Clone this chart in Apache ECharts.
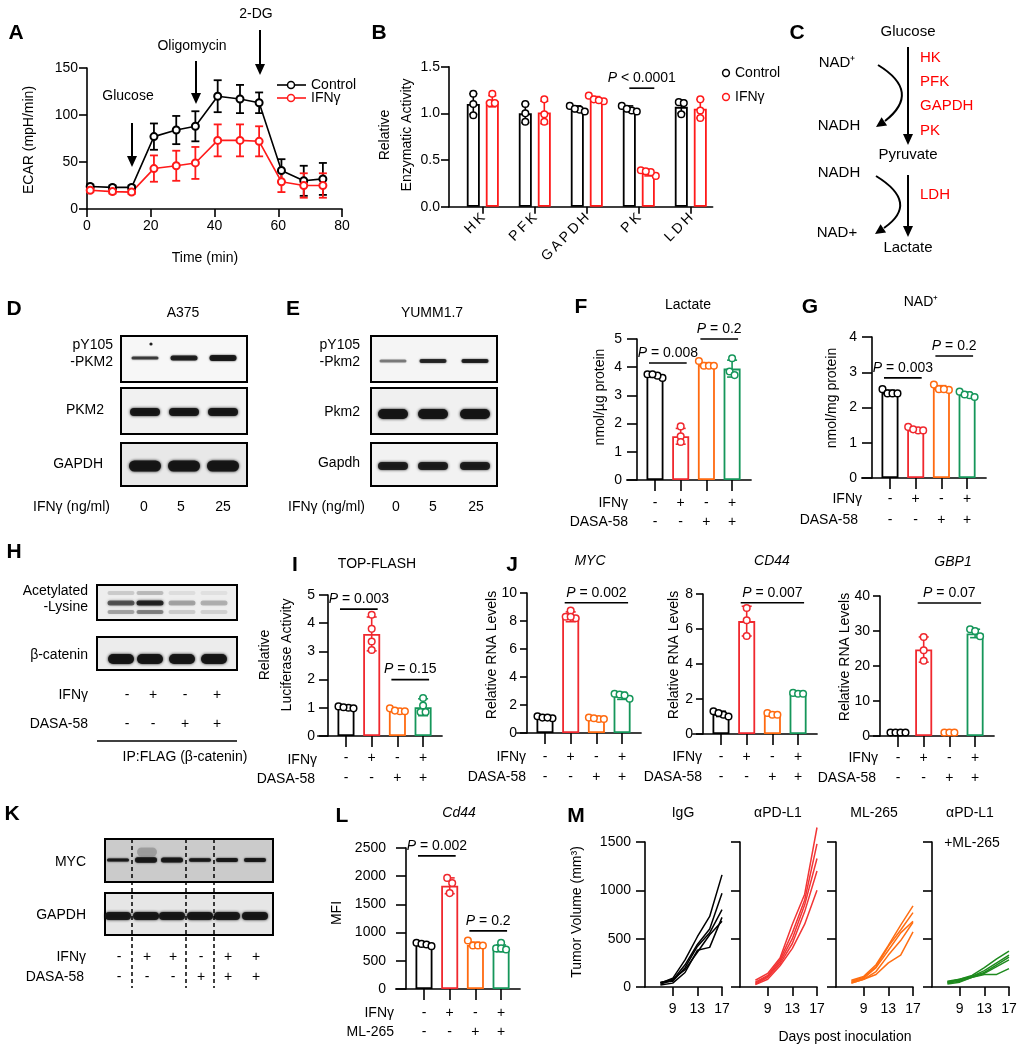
<!DOCTYPE html>
<html><head><meta charset="utf-8">
<script src="https://cdn.jsdelivr.net/npm/echarts@6/dist/echarts.min.js"></script>
<style>html,body{margin:0;padding:0;background:#fff}#c{width:1024px;height:1050px}</style>
</head><body><div id="c"></div>
<script>
const FONT = 'Arial, "Liberation Sans", Helvetica, sans-serif';
// ================= DATA =================
// Panel A (ECAR)
const aTime = [1, 8, 14, 21, 28, 34, 41, 48, 54, 61, 68, 74];
const aControl = [24, 23, 23, 77, 84, 88, 120, 117, 113, 41, 30, 32];
const aControlSD = [2, 2, 2, 14, 15, 16, 17, 15, 11, 12, 16, 17];
const aIFNg = [20, 18.5, 18, 43, 46, 49, 73, 73, 72, 29, 25, 25];
const aIFNgSD = [2, 2, 2, 14, 16, 17, 17, 17, 16, 11, 13, 13];
// Panel B (enzymatic activity)
const bCats = ['HK', 'PFK', 'GAPDH', 'PK', 'LDH'];
const bControl = [1.10, 1.00, 1.05, 1.05, 1.07];
const bControlSD = [0.11, 0.10, 0.03, 0.03, 0.07];
const bControlPts = [[1.21, 1.10, 0.98], [1.10, 1.00, 0.91], [1.08, 1.04, 1.05, 1.02], [1.08, 1.03, 1.05, 1.02], [1.12, 1.11, 0.99]];
const bIFNg = [1.13, 1.01, 1.15, 0.36, 1.05];
const bIFNgSD = [0.06, 0.12, 0.03, 0.03, 0.10];
const bIFNgPts = [[1.21, 1.11, 1.11], [1.15, 0.99, 0.91], [1.19, 1.13, 1.15, 1.14], [0.39, 0.33, 0.37, 0.38], [1.15, 1.03, 0.95]];
const bSig = [[3, 3, 1.27, '< 0.0001']];
// Treatment rows
const rowIFN = ['-', '+', '-', '+'];
const rowDrug = ['-', '-', '+', '+'];
// Panel F (lactate)
const fLactate = [3.70, 1.55, 4.08, 3.95];
const fLactateSD = [0.06, 0.28, 0.08, 0.30];
const fLactatePts = [[3.62, 3.70, 3.75, 3.75], [1.90, 1.55, 1.35], [4.22, 4.05, 4.05, 4.05], [4.32, 3.85, 3.72]];
const fSig = [[0, 1, 4.15, '= 0.008'], [2, 3, 5.0, '= 0.2']];
// Panel G (NAD+)
const gNAD = [2.42, 1.37, 2.55, 2.37];
const gNADSD = [0.07, 0.05, 0.07, 0.06];
const gNADPts = [[2.52, 2.40, 2.40, 2.40], [1.45, 1.35, 1.35, 1.38], [2.65, 2.52, 2.50, 2.52], [2.45, 2.35, 2.30, 2.37]];
const gSig = [[0, 1, 2.84, '= 0.003'], [2, 3, 3.46, '= 0.2']];
// Panel I (TOP-FLASH)
const iLuc = [1.00, 3.62, 0.90, 1.02];
const iLucSD = [0.04, 0.60, 0.06, 0.30];
const iLucPts = [[1.05, 1.00, 0.98, 1.02], [4.30, 3.80, 3.35, 3.05], [0.98, 0.88, 0.88, 0.90], [1.35, 1.08, 0.85, 0.85]];
const iSig = [[0, 1, 4.5, '= 0.003'], [2, 3, 2.0, '= 0.15']];
// Panel J (RNA levels)
const jMyc = [1.10, 8.30, 1.05, 2.65];
const jMycSD = [0.10, 0.35, 0.08, 0.25];
const jMycPts = [[1.20, 1.10, 1.05, 1.10], [8.75, 8.30, 8.20, 8.30], [1.10, 1.00, 1.00, 1.05], [2.80, 2.75, 2.45, 2.70]];
const jMycSig = [[1, 3, 9.3, '= 0.002']];
const jCd44 = [1.15, 6.45, 1.10, 2.30];
const jCd44SD = [0.15, 0.85, 0.08, 0.05];
const jCd44Pts = [[1.30, 1.10, 1.00, 1.20], [7.20, 6.50, 5.60], [1.20, 1.10, 1.10], [2.35, 2.30, 2.30]];
const jCd44Sig = [[1, 3, 7.5, '= 0.007']];
const jGbp1 = [1.0, 24.7, 1.0, 29.3];
const jGbp1SD = [0.2, 3.6, 0.2, 1.2];
const jGbp1Pts = [[1, 1, 1, 1], [28.3, 24.5, 21.5], [1, 1, 1], [30.5, 30.0, 28.5]];
const jGbp1Sig = [[1, 3, 38, '= 0.07']];
// Panel L (Cd44 MFI)
const lMFI = [790, 1830, 780, 720];
const lMFISD = [30, 140, 50, 60];
const lMFIPts = [[820, 800, 790, 760], [1970, 1880, 1700], [860, 770, 770, 770], [820, 720, 720, 700]];
const lSig = [[0, 1, 2360, '= 0.002'], [2, 3, 1030, '= 0.2']];
const rowML = ['-', '-', '+', '+'];
// Panel M (tumor growth, 5 mice per group)
const mDays = [7, 9, 11, 13, 15, 17];
const mTicks = [9, 13, 17];
const mIgG = [[40, 90, 280, 520, 730, 1160], [30, 70, 230, 440, 600, 970], [50, 60, 200, 420, 560, 800], [20, 40, 150, 380, 410, 720], [45, 80, 180, 360, 540, 680]];
const mPDL1 = [[70, 140, 300, 650, 960, 1650], [50, 120, 280, 560, 900, 1480], [40, 110, 260, 500, 850, 1330], [30, 100, 240, 450, 780, 1200], [25, 80, 220, 400, 650, 1000]];
const mML265 = [[70, 110, 230, 430, 640, 840], [60, 100, 210, 420, 590, 770], [50, 90, 200, 380, 560, 680], [40, 80, 160, 330, 480, 670], [40, 80, 130, 250, 330, 570]];
const mCombo = [[60, 80, 120, 200, 290, 370], [50, 80, 110, 170, 250, 330], [50, 70, 110, 150, 230, 310], [40, 60, 100, 140, 210, 280], [30, 50, 100, 130, 130, 190]];
const mTitles = ['IgG', '\u03b1PD-L1', 'ML-265', '\u03b1PD-L1'];
// Blot lane labels
const dDoses = ['0', '5', '25'];
const hIFN = ['-', '+', '-', '+'];
const hDASA = ['-', '-', '+', '+'];
const kIFN = ['-', '+', '+', '-', '+', '+'];
const kDASA = ['-', '-', '-', '+', '+', '+'];

// ================= STYLE / LAYOUT =================
const BLACK = '#000', RED = '#f0282e', ORANGE = '#ff6a10', GREEN = '#15965a', A_RED = '#ff1a1a';
const M_COLORS = ['#000', '#f23535', '#ff6e12', '#1e8a1e'];
const grids = [], xAxes = [], yAxes = [], series = [], G = [];

function yAx(gi, o) {
  return {type: 'value', gridIndex: gi, min: o.min || 0, max: o.max, interval: o.interval, offset: o.offset || 0,
    axisLine: {show: true, onZero: false, lineStyle: {color: '#000', width: 1.6}},
    axisTick: {show: true, length: o.tick || 8, lineStyle: {color: '#000', width: 1.6}},
    axisLabel: {show: o.labels !== false, margin: o.margin || 10, color: '#000', fontSize: 14, fontFamily: FONT, formatter: o.fmt || (v => String(v))},
    splitLine: {show: false}};
}
function spread(ys, gap, step) {
  const idx = ys.map((y, i) => i).sort((a, b) => ys[a] - ys[b]);
  const off = new Array(ys.length).fill(0);
  let cl = [idx[0]];
  const flush = () => cl.forEach((k, j) => { off[k] = (j - (cl.length - 1) / 2) * step; });
  for (let j = 1; j < idx.length; j++) {
    if (ys[idx[j]] - ys[idx[j - 1]] < gap) cl.push(idx[j]); else { flush(); cl = [idx[j]]; }
  }
  flush();
  return off;
}
function dotSeries(gi, pos, means, sds, pts, colors, cap) {
  return {type: 'custom', xAxisIndex: gi, yAxisIndex: gi, silent: true, z: 5,
    data: means.map((m, i) => [pos[i], m, sds[i], i]),
    renderItem: (params, api) => {
      const x = api.value(0), m = api.value(1), e = api.value(2), i = api.value(3);
      const col = colors[i];
      const cx = api.coord([x, m])[0];
      const yt = api.coord([x, m + e])[1], yb = api.coord([x, m - e])[1];
      const st = {stroke: col, lineWidth: 1.6};
      const ch = [
        {type: 'line', shape: {x1: cx, y1: yt, x2: cx, y2: yb}, style: st},
        {type: 'line', shape: {x1: cx - cap, y1: yt, x2: cx + cap, y2: yt}, style: st},
        {type: 'line', shape: {x1: cx - cap, y1: yb, x2: cx + cap, y2: yb}, style: st}];
      const ys = pts[i].map(p => api.coord([x, p])[1]);
      const offs = spread(ys, 5.5, 5);
      ys.forEach((py, k) => ch.push({type: 'circle', shape: {cx: cx + offs[k], cy: py, r: 3.3}, style: {fill: '#fff', stroke: col, lineWidth: 1.5}}));
      return {type: 'group', children: ch};
    }};
}
function sigSeries(gi, sig, posOf, hl, hr) {
  return {type: 'custom', xAxisIndex: gi, yAxisIndex: gi, silent: true, z: 6,
    data: sig.map(s => [posOf(s[0], 0), posOf(s[1], 1), s[2]]),
    renderItem: (params, api) => {
      const s = sig[params.dataIndex];
      const p1 = api.coord([api.value(0), api.value(2)]), p2 = api.coord([api.value(1), api.value(2)]);
      const x1 = p1[0] - hl, x2 = p2[0] + hr, y = p1[1];
      return {type: 'group', children: [
        {type: 'line', shape: {x1: x1, y1: y, x2: x2, y2: y}, style: {stroke: '#000', lineWidth: 1.6}},
        {type: 'text', x: (x1 + x2) / 2, y: y - 3, style: {text: '{i|P} ' + s[3], fill: '#000', fontSize: 14, fontFamily: FONT, align: 'center', verticalAlign: 'bottom',
          rich: {i: {fontStyle: 'italic', fontSize: 14, fontFamily: FONT, fill: '#000'}}}}]};
    }};
}

// ---------- Panel A ----------
(function () {
  const gi = grids.length;
  grids.push({left: 87, top: 68, width: 255, height: 141});
  xAxes.push({type: 'value', gridIndex: gi, min: 0, max: 80, interval: 20,
    axisLine: {show: true, onZero: false, lineStyle: {color: '#000', width: 1.6}},
    axisTick: {show: true, length: 8, lineStyle: {color: '#000', width: 1.6}},
    axisLabel: {margin: 10, color: '#000', fontSize: 14, fontFamily: FONT}, splitLine: {show: false}});
  yAxes.push(yAx(gi, {max: 150, interval: 50, tick: 8, margin: 9}));
  const errA = (ys, sds, col) => ({type: 'custom', xAxisIndex: gi, yAxisIndex: gi, silent: true, z: 2,
    data: aTime.map((t, i) => [t, ys[i], sds[i]]),
    renderItem: (p, api) => {
      const x = api.value(0), m = api.value(1), e = api.value(2);
      const t = api.coord([x, m + e]), b = api.coord([x, m - e]), cx = t[0];
      const st = {stroke: col, lineWidth: 1.8};
      return {type: 'group', children: [
        {type: 'line', shape: {x1: cx, y1: t[1], x2: cx, y2: b[1]}, style: st},
        {type: 'line', shape: {x1: cx - 4, y1: t[1], x2: cx + 4, y2: t[1]}, style: st},
        {type: 'line', shape: {x1: cx - 4, y1: b[1], x2: cx + 4, y2: b[1]}, style: st}]};
    }});
  series.push(errA(aControl, aControlSD, BLACK), errA(aIFNg, aIFNgSD, A_RED));
  const lineA = (name, ys, col) => ({type: 'line', name: name, xAxisIndex: gi, yAxisIndex: gi, silent: true, z: 3,
    data: aTime.map((t, i) => [t, ys[i]]), symbol: 'emptyCircle', symbolSize: 7, showSymbol: true,
    itemStyle: {color: col, borderWidth: 1.5}, lineStyle: {color: col, width: 1.6}});
  series.push(lineA('Control', aControl, BLACK), lineA('IFN\u03b3', aIFNg, A_RED));
})();

// ---------- Panel B ----------
(function () {
  const gi = grids.length, UB = 52, c0 = 0.65, tail = 0.42, d = 9.5 / 52;
  grids.push({left: 449, top: 66.7, width: (c0 + 4 + tail) * UB, height: 140});
  const pos = bCats.map((_, i) => c0 + i);
  xAxes.push({type: 'value', gridIndex: gi, min: 0, max: c0 + 4 + tail,
    axisLine: {show: true, onZero: false, lineStyle: {color: '#000', width: 1.6}},
    axisTick: {show: true, customValues: pos, length: 7, lineStyle: {color: '#000', width: 1.6}},
    axisLabel: {show: true, customValues: pos, rotate: 45, margin: 9, color: '#000', fontSize: 14, fontFamily: FONT,
      formatter: v => bCats[Math.round(v - c0)].split('').join('\u2009')},
    splitLine: {show: false}});
  yAxes.push(yAx(gi, {max: 1.5, interval: 0.5, tick: 8, margin: 9, fmt: v => v.toFixed(1)}));
  const barB = (vals, col, sgn) => ({type: 'bar', xAxisIndex: gi, yAxisIndex: gi, silent: true, barWidth: 13, barGap: '-100%',
    data: vals.map((v, i) => [pos[i] + sgn * d, v]), itemStyle: {color: '#fff', borderColor: col, borderWidth: 1.8}});
  series.push(barB(bControl, BLACK, -1), barB(bIFNg, A_RED, 1));
  series.push(dotSeries(gi, pos.map(p => p - d), bControl, bControlSD, bControlPts, bCats.map(() => BLACK), 4));
  series.push(dotSeries(gi, pos.map(p => p + d), bIFNg, bIFNgSD, bIFNgPts, bCats.map(() => A_RED), 4));
  series.push(sigSeries(gi, bSig, (i, k) => pos[i] + (k ? d : -d), 0, 6));
})();

// ---------- 4-bar panels ----------
const U = 25.7, C0 = 0.7, EXT = 0.4, TAIL = 0.74, BW = 17;
const barColors = [BLACK, RED, ORANGE, GREEN];
function barPanel(cfg) {
  const gi = grids.length, n = cfg.means.length;
  grids.push({left: cfg.axisX - EXT * U, top: cfg.yTop, width: (EXT + C0 + (n - 1) + TAIL) * U, height: cfg.y0 - cfg.yTop});
  const pos = cfg.means.map((_, i) => C0 + i);
  xAxes.push({type: 'value', gridIndex: gi, min: -EXT, max: C0 + (n - 1) + TAIL,
    axisLine: {show: true, onZero: false, lineStyle: {color: '#000', width: 1.6}},
    axisTick: {show: true, customValues: pos, length: 11, lineStyle: {color: '#000', width: 1.6}},
    axisLabel: {show: true, customValues: pos, margin: cfg.margin,
      formatter: v => { const i = Math.round(v - C0); return '{r|' + cfg.rows[0][i] + '}\n{r|' + cfg.rows[1][i] + '}'; },
      rich: {r: {fontSize: 14, fontFamily: FONT, color: '#000', lineHeight: cfg.lh}}},
    splitLine: {show: false}});
  yAxes.push(yAx(gi, {max: cfg.ymax, interval: cfg.interval, tick: cfg.ytick, margin: cfg.ymargin, offset: -EXT * U}));
  series.push({type: 'bar', xAxisIndex: gi, yAxisIndex: gi, silent: true, barWidth: BW,
    data: cfg.means.map((v, i) => ({value: [pos[i], v], itemStyle: {color: '#fff', borderColor: barColors[i], borderWidth: 1.8}}))});
  series.push(dotSeries(gi, pos, cfg.means, cfg.sds, cfg.pts, barColors, 5));
  series.push(sigSeries(gi, cfg.sig, i => pos[i], 6, 6));
}
barPanel({axisX: 637, y0: 480, yTop: 339, ymax: 5, interval: 1, ytick: 10, ymargin: 15, means: fLactate, sds: fLactateSD, pts: fLactatePts, rows: [rowIFN, rowDrug], margin: 13.5, lh: 19, sig: fSig});
barPanel({axisX: 872, y0: 478, yTop: 337, ymax: 4, interval: 1, ytick: 10, ymargin: 15, means: gNAD, sds: gNADSD, pts: gNADPts, rows: [rowIFN, rowDrug], margin: 10.5, lh: 21, sig: gSig});
barPanel({axisX: 328, y0: 736, yTop: 595, ymax: 5, interval: 1, ytick: 9, ymargin: 13, means: iLuc, sds: iLucSD, pts: iLucPts, rows: [rowIFN, rowDrug], margin: 12, lh: 20, sig: iSig});
barPanel({axisX: 527, y0: 733, yTop: 593, ymax: 10, interval: 2, ytick: 7, ymargin: 10, means: jMyc, sds: jMycSD, pts: jMycPts, rows: [rowIFN, rowDrug], margin: 14, lh: 20, sig: jMycSig});
barPanel({axisX: 703, y0: 734, yTop: 594, ymax: 8, interval: 2, ytick: 7, ymargin: 10, means: jCd44, sds: jCd44SD, pts: jCd44Pts, rows: [rowIFN, rowDrug], margin: 13, lh: 20, sig: jCd44Sig});
barPanel({axisX: 880, y0: 736, yTop: 596, ymax: 40, interval: 10, ytick: 7, ymargin: 10, means: jGbp1, sds: jGbp1SD, pts: jGbp1Pts, rows: [rowIFN, rowDrug], margin: 12, lh: 20, sig: jGbp1Sig});
barPanel({axisX: 406, y0: 989, yTop: 848, ymax: 2500, interval: 500, ytick: 10, ymargin: 20, means: lMFI, sds: lMFISD, pts: lMFIPts, rows: [rowIFN, rowML], margin: 14.5, lh: 19, sig: lSig});

// ---------- Panel M ----------
const mAxesX = [645, 740, 836, 932];
[mIgG, mPDL1, mML265, mCombo].forEach((grp, k) => {
  const gi = grids.length;
  grids.push({left: mAxesX[k], top: 842, width: 77, height: 145});
  xAxes.push({type: 'value', gridIndex: gi, min: 4.5, max: 17,
    axisLine: {show: true, onZero: false, lineStyle: {color: '#000', width: 1.6}},
    axisTick: {show: true, customValues: mTicks, length: 9, lineStyle: {color: '#000', width: 1.6}},
    axisLabel: {show: true, customValues: mTicks, margin: 15, color: '#000', fontSize: 14, fontFamily: FONT},
    splitLine: {show: false}});
  yAxes.push(yAx(gi, {max: 1500, interval: 500, tick: 9, margin: 14, labels: k === 0}));
  grp.forEach(mouse => series.push({type: 'line', xAxisIndex: gi, yAxisIndex: gi, silent: true, clip: false,
    showSymbol: false, symbol: 'none', data: mDays.map((dd, j) => [dd, mouse[j]]),
    lineStyle: {color: M_COLORS[k], width: 1.5}}));
});

// ================= GRAPHIC (labels, diagram, blots) =================
function T(x, y, s, o) {
  o = o || {};
  return {type: 'text', x: x, y: y, rotation: o.rot || 0, silent: true, z: 100,
    style: {text: s, fill: o.color || '#000', fontSize: o.size || 14, fontFamily: FONT, fontWeight: o.bold ? 'bold' : 'normal',
      fontStyle: o.italic ? 'italic' : 'normal', align: o.align || 'center', verticalAlign: o.va || 'middle', lineHeight: o.lh, rich: o.rich}};
}
function L(x1, y1, x2, y2, o) {
  o = o || {};
  return {type: 'line', silent: true, z: 100, shape: {x1: x1, y1: y1, x2: x2, y2: y2},
    style: {stroke: o.color || '#000', lineWidth: o.w || 1.8, lineDash: o.dash}};
}
function head(tx, ty, fx, fy, len, hw) {
  const dx = tx - fx, dy = ty - fy, n = Math.hypot(dx, dy), ux = dx / n, uy = dy / n;
  const bx = tx - ux * len, by = ty - uy * len;
  return {type: 'polygon', silent: true, z: 100, shape: {points: [[tx, ty], [bx - uy * hw, by + ux * hw], [bx + uy * hw, by - ux * hw]]}, style: {fill: '#000'}};
}

// panel letters
[['A', 16, 33], ['B', 379, 33], ['C', 797, 33], ['D', 14, 309], ['E', 293, 309], ['F', 581, 307], ['G', 810, 307],
 ['H', 14, 552], ['I', 295, 565], ['J', 512, 565], ['K', 12, 814], ['L', 342, 816], ['M', 576, 816]]
  .forEach(l => G.push(T(l[1], l[2], l[0], {bold: true, size: 21})));

// axis titles (rotated)
const R90 = Math.PI / 2;
[['ECAR (mpH/min)', 29, 140], ['Relative\nEnzymatic Activity', 396, 135], ['nmol/\u00b5g protein', 600, 397],
 ['nmol/mg protein', 832, 398], ['Relative\nLuciferase Activity', 276, 655], ['Relative RNA Levels', 492, 655],
 ['Relative RNA Levels', 674, 655], ['Relative RNA Levels', 845, 657], ['MFI', 337, 913], ['Tumor Volume (mm\u00b3)', 577, 912]]
  .forEach(t => G.push(T(t[1], t[2], t[0], {rot: R90, lh: 22})));
G.push(T(205, 258, 'Time (min)'));
G.push(T(845, 1037, 'Days post inoculation'));

// panel titles
G.push(T(183, 313, 'A375'), T(432, 313, 'YUMM1.7'), T(688, 305, 'Lactate'), T(921, 302, 'NAD\u207a'),
  T(377, 564, 'TOP-FLASH'), T(590, 561, 'MYC', {italic: true}), T(772, 561, 'CD44', {italic: true}),
  T(953, 562, 'GBP1', {italic: true}), T(459, 813, 'Cd44', {italic: true}));
mTitles.forEach((t, k) => G.push(T(mAxesX[k] + 38, 813, t)));
G.push(T(972, 843, '+ML-265'));

// row titles (right aligned)
[['IFN\u03b3', 628, 503], ['DASA-58', 628, 522], ['IFN\u03b3', 862, 499], ['DASA-58', 858, 520],
 ['IFN\u03b3', 88, 695], ['DASA-58', 88, 724], ['IFN\u03b3', 317, 760], ['DASA-58', 315, 779],
 ['IFN\u03b3', 526, 757], ['DASA-58', 526, 777], ['IFN\u03b3', 702, 757], ['DASA-58', 702, 777],
 ['IFN\u03b3', 878, 758], ['DASA-58', 876, 778], ['IFN\u03b3', 86, 957], ['DASA-58', 84, 977],
 ['IFN\u03b3', 394, 1013], ['ML-265', 394, 1032], ['IFN\u03b3 (ng/ml)', 110, 507], ['IFN\u03b3 (ng/ml)', 365, 507]]
  .forEach(t => G.push(T(t[1], t[2], t[0], {align: 'right'})));

// Panel A annotations: arrows + legend
[['Glucose', 132, 96, 123, 167], ['Oligomycin', 196, 46, 61, 104], ['2-DG', 260, 14, 30, 75]].forEach(a => {
  G.push(T(a[1] - 4, a[2], a[0]));
  G.push(L(a[1], a[3], a[1], a[4] - 8, {w: 2}), head(a[1], a[4], a[1], a[3], 11, 5));
});
G.push(L(277, 85, 306, 85, {w: 1.6}), {type: 'circle', z: 100, shape: {cx: 291, cy: 85, r: 3.5}, style: {fill: '#fff', stroke: BLACK, lineWidth: 1.5}}, T(311, 85, 'Control', {align: 'left'}));
G.push(L(277, 98, 306, 98, {w: 1.6, color: A_RED}), {type: 'circle', z: 100, shape: {cx: 291, cy: 98, r: 3.5}, style: {fill: '#fff', stroke: A_RED, lineWidth: 1.5}}, T(311, 98, 'IFN\u03b3', {align: 'left'}));
// Panel B legend
G.push({type: 'circle', z: 100, shape: {cx: 726, cy: 73, r: 3.4}, style: {fill: '#fff', stroke: BLACK, lineWidth: 1.5}}, T(735, 73, 'Control', {align: 'left'}));
G.push({type: 'circle', z: 100, shape: {cx: 726, cy: 97, r: 3.4}, style: {fill: '#fff', stroke: A_RED, lineWidth: 1.5}}, T(735, 97, 'IFN\u03b3', {align: 'left'}));

// Panel C diagram
G.push(T(908, 32, 'Glucose', {size: 15}), T(908, 155, 'Pyruvate', {size: 15}), T(908, 248, 'Lactate', {size: 15}));
G.push(T(837, 63, 'NAD\u207a', {size: 15}), T(839, 126, 'NADH', {size: 15}), T(839, 173, 'NADH', {size: 15}), T(837, 233, 'NAD+', {size: 15}));
[['HK', 58], ['PFK', 82], ['GAPDH', 106], ['PK', 131], ['LDH', 195]].forEach(e => G.push(T(920, e[1], e[0], {align: 'left', color: '#f00', size: 15})));
G.push(L(908, 47, 908, 136, {w: 2}), head(908, 145, 908, 47, 11, 5));
G.push(L(908, 175, 908, 228, {w: 2}), head(908, 237, 908, 175, 11, 5));
G.push({type: 'bezierCurve', silent: true, z: 100, shape: {x1: 878, y1: 65, cpx1: 922, cpy1: 92, x2: 885, y2: 121}, style: {stroke: '#000', lineWidth: 2, fill: 'none'}}, head(876, 127, 888, 119, 10, 5));
G.push({type: 'bezierCurve', silent: true, z: 100, shape: {x1: 876, y1: 176, cpx1: 920, cpy1: 203, x2: 884, y2: 228}, style: {stroke: '#000', lineWidth: 2, fill: 'none'}}, head(875, 234, 887, 226, 10, 5));

// Blots
function box(x1, y1, x2, y2, fill) { return {type: 'rect', silent: true, z: 90, shape: {x: x1, y: y1, width: x2 - x1, height: y2 - y1}, style: {fill: fill, stroke: '#000', lineWidth: 2}}; }
function band(cx, cy, w, h, a, blur) { return {type: 'rect', silent: true, z: 95, shape: {x: cx - w / 2, y: cy - h / 2, width: w, height: h, r: h / 2}, style: {fill: 'rgba(20,20,20,' + a + ')', shadowBlur: blur, shadowColor: 'rgba(0,0,0,' + a + ')'}}; }
// D
const dLane = [145, 184, 223];
G.push(box(121, 336, 247, 382, '#f7f7f7'), box(121, 388, 247, 434, '#f1f1f1'), box(121, 443, 247, 486, '#e8e8e8'));
[[3, .7], [5, .85], [6, .9]].forEach((b, i) => G.push(band(dLane[i], 358, 27, b[0], b[1], 2)));
G.push({type: 'circle', z: 95, shape: {cx: 151, cy: 344, r: 1.6}, style: {fill: '#222'}});
dLane.forEach(x => G.push(band(x, 412, 30, 8, .92, 3), band(x, 466, 32, 11, .95, 3)));
G.push(T(113, 345, 'pY105', {align: 'right'}), T(113, 362, '-PKM2', {align: 'right'}), T(104, 410, 'PKM2', {align: 'right'}), T(103, 464, 'GAPDH', {align: 'right'}));
dDoses.forEach((s, i) => G.push(T([144, 181, 223][i], 507, s)));
// E
const eLane = [393, 433, 475];
G.push(box(371, 336, 497, 382, '#f5f5f5'), box(371, 388, 497, 434, '#f0f0f0'), box(371, 443, 497, 486, '#f2f2f2'));
[[3, .45], [4, .8], [4, .85]].forEach((b, i) => G.push(band(eLane[i], 361, 27, b[0], b[1], 2)));
eLane.forEach(x => G.push(band(x, 414, 30, 10, .95, 3), band(x, 466, 30, 8, .88, 3)));
G.push(T(360, 345, 'pY105', {align: 'right'}), T(360, 362, '-Pkm2', {align: 'right'}), T(360, 412, 'Pkm2', {align: 'right'}), T(360, 463, 'Gapdh', {align: 'right'}));
dDoses.forEach((s, i) => G.push(T([396, 433, 476][i], 507, s)));
// H
const hLane = [121, 150, 182, 214];
G.push(box(97, 585, 237, 620, '#eeeeee'), box(97, 637, 237, 670, '#ececec'));
[.6, .85, .3, .25].forEach((a, i) => G.push(band(hLane[i], 603, 27, 5, a, 3), band(hLane[i], 612, 27, 4, a * .5, 3), band(hLane[i], 593, 27, 4, a * .25, 3)));
hLane.forEach(x => G.push(band(x, 659, 26, 10, .95, 3)));
G.push(T(88, 591, 'Acetylated', {align: 'right'}), T(88, 607, '-Lysine', {align: 'right'}), T(88, 655, '\u03b2-catenin', {align: 'right'}));
hIFN.forEach((s, i) => G.push(T([127, 153, 185, 217][i], 695, s)));
hDASA.forEach((s, i) => G.push(T([127, 153, 185, 217][i], 724, s)));
G.push(L(97, 741, 237, 741, {w: 1.5}), T(185, 757, 'IP:FLAG (\u03b2-catenin)'));
// K
const kLane = [118, 146, 172, 200, 227, 255];
G.push(box(105, 839, 273, 882, '#cbcbcb'), box(105, 893, 273, 935, '#e6e6e6'));
G.push(band(147, 852, 20, 9, .22, 4));
[3, 5.5, 5, 3.5, 4, 4].forEach((h, i) => G.push(band(kLane[i], 860, 22, h, .9, 2)));
kLane.forEach(x => G.push(band(x, 916, 26, 8, .92, 3)));
[132, 186, 214].forEach(x => G.push(L(x, 839, x, 988, {w: 1.5, dash: [4, 3]})));
G.push(T(86, 862, 'MYC', {align: 'right'}), T(86, 915, 'GAPDH', {align: 'right'}));
kIFN.forEach((s, i) => G.push(T(kLane[i] + 1, 957, s)));
kDASA.forEach((s, i) => G.push(T(kLane[i] + 1, 977, s)));

const chart = echarts.init(document.getElementById('c'), null, {renderer: 'canvas', width: 1024, height: 1050});
chart.setOption({
  animation: false, backgroundColor: '#fff', textStyle: {fontFamily: FONT},
  grid: grids, xAxis: xAxes, yAxis: yAxes, series: series,
  graphic: {elements: G}
});
</script></body></html>
